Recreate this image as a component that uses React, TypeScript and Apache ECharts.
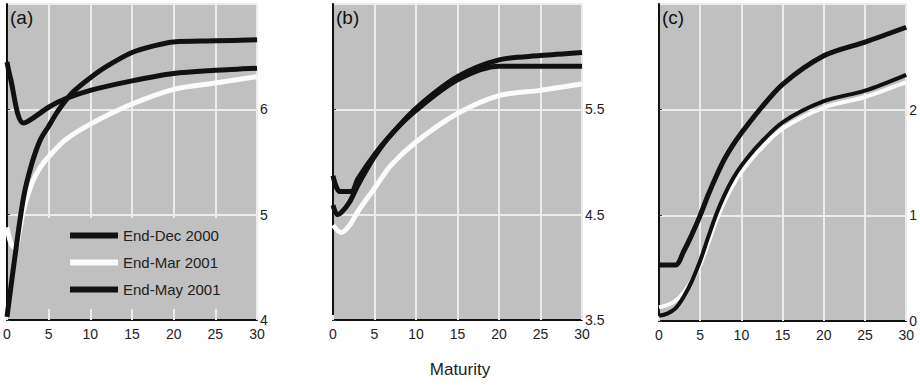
import React, { useEffect, useRef } from "react";
import * as echarts from "echarts";

// Panel (a)
const aDecM = [0, 0.4, 2, 5, 7, 10, 15, 20, 25, 30];
const aDecV = [6.45, 6.3, 5.87, 6.02, 6.1, 6.18, 6.27, 6.34, 6.37, 6.39];
const aMarM = [0, 0.5, 1, 1.5, 2, 3, 4, 5, 7, 10, 15, 20, 25, 30];
const aMarV = [4.88, 4.72, 4.68, 4.85, 5.05, 5.3, 5.45, 5.55, 5.71, 5.86, 6.05, 6.19, 6.25, 6.31];
const aMayM = [0, 1, 2, 3, 4, 5, 6, 7, 8, 10, 12, 15, 18, 20, 25, 30];
const aMayV = [4.03, 4.63, 5.17, 5.49, 5.71, 5.84, 5.97, 6.08, 6.17, 6.3, 6.41, 6.54, 6.61, 6.64, 6.65, 6.66];

// Panel (b)
const bDecM = [0, 0.8, 2.2, 3, 5, 7, 10, 15, 20, 25, 30];
const bDecV = [4.87, 4.72, 4.72, 4.84, 5.07, 5.26, 5.51, 5.81, 5.97, 6.01, 6.04];
const bMarM = [0, 1, 2, 3, 5, 7, 10, 15, 20, 25, 30];
const bMarV = [4.4, 4.33, 4.4, 4.53, 4.75, 4.97, 5.19, 5.46, 5.63, 5.68, 5.74];
const bMayM = [0, 0.5, 1, 2, 3, 5, 7, 10, 15, 20, 25, 30];
const bMayV = [4.59, 4.5, 4.52, 4.62, 4.78, 5.05, 5.26, 5.49, 5.78, 5.91, 5.91, 5.91];

// Panel (c)
const cDecM = [0, 2, 3, 4, 5, 6, 7, 8, 9, 10, 12, 15, 20, 25, 30];
const cDecV = [0.53, 0.53, 0.66, 0.82, 1.0, 1.2, 1.38, 1.54, 1.67, 1.78, 1.98, 2.24, 2.51, 2.64, 2.78];
const cMarM = [0, 1, 2, 3, 4, 5, 6, 7, 8, 9, 10, 12, 15, 20, 25, 30];
const cMarV = [0.13, 0.15, 0.19, 0.27, 0.39, 0.53, 0.74, 0.96, 1.14, 1.29, 1.41, 1.6, 1.82, 2.02, 2.12, 2.26];
const cMayM = [0, 1, 2, 3, 4, 5, 6, 7, 8, 9, 10, 12, 15, 20, 25, 30];
const cMayV = [0.05, 0.07, 0.12, 0.23, 0.38, 0.57, 0.8, 1.02, 1.2, 1.35, 1.47, 1.66, 1.88, 2.08, 2.18, 2.33];

const seriesNames = ["End-Dec 2000", "End-Mar 2001", "End-May 2001"];
const panelLabels = ["(a)", "(b)", "(c)"];
const xTicks = [0, 30, 5];
const yRanges = [
  [4, 7],
  [3.5, 6.5],
  [0, 3],
];
const xTitle = "Maturity";

const FONT = "'Liberation Sans', Arial, sans-serif";

const pair = (m: number[], v: number[]) => m.map((x, i) => [x, v[i]]);

export default function App() {
  const ref = useRef<HTMLDivElement>(null);
  useEffect(() => {
    if (!ref.current) return;
    const chart = echarts.init(ref.current, undefined, { renderer: "svg" });
    const grids = [
      { left: 7, top: 4, width: 250, height: 316 },
      { left: 333, top: 4, width: 249, height: 316 },
      { left: 659, top: 4, width: 248, height: 317 },
    ];
    const panelData = [
      [pair(aDecM, aDecV), pair(aMarM, aMarV), pair(aMayM, aMayV)],
      [pair(bDecM, bDecV), pair(bMarM, bMarV), pair(bMayM, bMayV)],
      [pair(cDecM, cDecV), pair(cMarM, cMarV), pair(cMayM, cMayV)],
    ];
    const colors = ["#111111", "#fbfbfb", "#111111"];
    const series: any[] = [];
    panelData.forEach((pd, p) => {
      pd.forEach((d, s) => {
        series.push({
          type: "line",
          name: seriesNames[s],
          xAxisIndex: p,
          yAxisIndex: p,
          data: d,
          showSymbol: false,
          smooth: 0.3,
          z: 3 + s,
          color: colors[s],
          lineStyle: { color: colors[s], width: p === 2 && s > 0 ? 4 : 5 },
          itemStyle: { color: colors[s] },
        });
      });
    });
    chart.setOption({
      animation: false,
      grid: grids.map((g) => ({
        ...g,
        show: true,
        backgroundColor: "#c0c0c0",
        borderColor: "#555",
        borderWidth: 1,
      })),
      xAxis: grids.map((_, i) => ({
        type: "value",
        gridIndex: i,
        min: xTicks[0],
        max: xTicks[1],
        interval: xTicks[2],
        axisLine: { show: true, lineStyle: { color: "#111", width: 2 } },
        axisTick: { show: true, inside: true, length: 5, lineStyle: { color: "#ececec", width: 2 } },
        axisLabel: { fontFamily: FONT, fontSize: 14, color: "#222", margin: 7, lineHeight: 14 },
        splitLine: { show: true, lineStyle: { color: "#ececec", width: 2 } },
      })),
      yAxis: grids.map((_, i) => ({
        type: "value",
        gridIndex: i,
        position: "right",
        min: yRanges[i][0],
        max: yRanges[i][1],
        interval: 1,
        axisLine: { show: true, lineStyle: { color: "#111", width: 2 } },
        axisTick: { show: true, length: 3, lineStyle: { color: "#333" } },
        axisLabel: {
          fontFamily: FONT,
          fontSize: 14,
          color: "#222",
          margin: 3,
          showMaxLabel: false,
          lineHeight: 10,
        },
        splitLine: { show: true, lineStyle: { color: "#ececec", width: 2 } },
      })),
      legend: {
        data: seriesNames,
        orient: "vertical",
        left: 45,
        top: 218,
        backgroundColor: "#c0c0c0",
        padding: [10, 22, 12, 25],
        itemGap: 12,
        itemWidth: 48,
        itemHeight: 6,
        icon: "rect",
        selectedMode: false,
        textStyle: { fontFamily: FONT, fontSize: 15, color: "#222" },
      },
      graphic: [
        ...panelLabels.map((t, i) => ({
          type: "text",
          left: grids[i].left + 3,
          top: 8,
          z: 10,
          style: { text: t, fontFamily: FONT, fontSize: 19, fill: "#111" },
        })),
        {
          type: "text",
          left: "center",
          top: 361,
          style: { text: xTitle, fontFamily: FONT, fontSize: 17, fill: "#222" },
        },
      ],
      series,
    });
    return () => chart.dispose();
  }, []);
  return (
    <div
      ref={ref}
      style={{ position: "fixed", left: 0, top: 0, width: 920, height: 389, background: "#fff" }}
    />
  );
}
